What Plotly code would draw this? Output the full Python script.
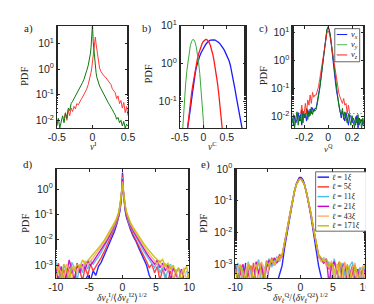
import plotly.graph_objects as go

W, H = 374, 304

# ---------------- panel a) ----------------
a_x = [-0.50, -0.48, -0.46, -0.44, -0.42, -0.40, -0.38, -0.36, -0.34, -0.32,
       -0.30, -0.28, -0.26, -0.24, -0.22, -0.20, -0.18, -0.16, -0.14, -0.12,
       -0.10, -0.08, -0.06, -0.04, -0.03, -0.02, -0.01, 0.00, 0.01, 0.02,
       0.03, 0.04, 0.05, 0.06, 0.08, 0.10,
       0.12, 0.14, 0.16, 0.18, 0.20, 0.22, 0.24, 0.26, 0.28, 0.30,
       0.32, 0.34, 0.36, 0.38, 0.40, 0.42, 0.44, 0.46, 0.48, 0.50]
a_red = [None, None, None, None, None, 0.012, 0.020, 0.010, 0.025, 0.015,
         0.030, 0.022, 0.035, 0.028, 0.045, 0.040, 0.055, 0.065, 0.080, 0.10,
         0.13, 0.17, 0.25, 0.40, 0.55, 0.75, 1.1, 1.8, 3.5, 7.0,
         13, 18, 10, 6.0, 2.0, 1.1,
         0.80, 0.65, 0.55, 0.50, 0.42, 0.38, 0.30, 0.25, 0.17, 0.14,
         0.12, 0.07, 0.09, 0.045, 0.06, 0.03, 0.05, 0.02, 0.035, 0.015]
a_green = [0.006, 0.012, 0.005, 0.010, 0.015, 0.008, 0.019, 0.012, 0.030, 0.024,
           0.045, 0.055, 0.07, 0.085, 0.10, 0.13, 0.17, 0.22, 0.30, 0.40,
           0.55, 0.9, 1.4, 2.6, 4.0, 7.0, 15, 60, 12, 5.0,
           2.2, 1.1, 0.75, 0.5, 0.3, 0.22,
           0.17, 0.13, 0.10, 0.085, 0.065, 0.05, 0.04, 0.034, 0.026, 0.020,
           0.016, 0.011, 0.013, 0.008, 0.010, 0.006, 0.009, 0.005, 0.007, 0.006]

# ---------------- panel b) ----------------
b_green_x = [-0.475, -0.45, -0.425, -0.4, -0.375, -0.35, -0.325, -0.3, -0.275, -0.25,
             -0.225, -0.2, -0.175, -0.15, -0.125, -0.1, -0.075, -0.05, -0.025, 0.0, 0.025]
b_green = [0.0034, 0.0126, 0.041, 0.117, 0.29, 0.63, 1.21, 2.03, 2.98, 3.83,
           4.32, 4.26, 3.68, 2.79, 1.85, 1.08, 0.55, 0.24, 0.095, 0.032, 0.0098]
b_red_x = [-0.35, -0.325, -0.3, -0.275, -0.25, -0.225, -0.2, -0.175, -0.15, -0.125,
           -0.1, -0.075, -0.05, -0.025, 0.0, 0.025, 0.05, 0.075, 0.1, 0.125,
           0.15, 0.175, 0.2, 0.225, 0.25, 0.275, 0.3, 0.325, 0.35, 0.375, 0.4, 0.425]
b_red = [0.013, 0.026, 0.05, 0.091, 0.16, 0.26, 0.42, 0.65, 0.96, 1.34,
         1.8, 2.33, 2.87, 3.4, 3.86, 4.17, 4.36, 4.3, 4.05, 3.6,
         3.0, 2.37, 1.77, 1.24, 0.83, 0.52, 0.31, 0.17, 0.091, 0.046, 0.021, 0.0095]
b_blue_x = [-0.375, -0.35, -0.325, -0.3, -0.275, -0.25, -0.225, -0.2, -0.175, -0.15,
            -0.125, -0.1, -0.075, -0.05, -0.025, 0.0, 0.025, 0.05, 0.075, 0.1,
            0.125, 0.15, 0.175, 0.2, 0.225, 0.25, 0.275, 0.3, 0.325, 0.35,
            0.375, 0.4, 0.425, 0.45, 0.475, 0.5, 0.525, 0.55, 0.575, 0.6,
            0.625, 0.65, 0.675, 0.7, 0.725, 0.75, 0.775, 0.8, 0.825, 0.85]
b_blue = [0.009, 0.014, 0.022, 0.035, 0.063, 0.11, 0.2, 0.33, 0.52, 0.78,
          1.05, 1.3, 1.6, 1.9, 2.2, 2.5, 2.85, 3.2, 3.5, 3.8,
          4.0, 4.15, 4.25, 4.27, 4.25, 4.18, 4.05, 3.85, 3.62, 3.37,
          3.1, 2.8, 2.5, 2.2, 1.9, 1.62, 1.38, 1.15, 0.88, 0.64,
          0.45, 0.3, 0.2, 0.13, 0.091, 0.063, 0.042, 0.03, 0.02, 0.0125]

# ---------------- panel c) ----------------
c_x = [-0.30, -0.29, -0.28, -0.27, -0.26, -0.25, -0.24, -0.23, -0.22, -0.21,
       -0.20, -0.19, -0.18, -0.17, -0.16, -0.15, -0.14, -0.13, -0.12, -0.11,
       -0.10, -0.09, -0.08, -0.07, -0.06, -0.05, -0.04, -0.03, -0.02, -0.01,
       0.00, 0.01, 0.02, 0.03, 0.04, 0.05, 0.06, 0.07, 0.08, 0.09, 0.10,
       0.11, 0.12, 0.13, 0.14, 0.15, 0.16, 0.17, 0.18, 0.19, 0.20,
       0.21, 0.22, 0.23, 0.24, 0.25, 0.26, 0.27, 0.28, 0.29, 0.30]
c_vx = [0.009, 0.005, 0.011, 0.006, 0.008, 0.014, 0.007, 0.012, 0.005, 0.016,
        0.009, 0.013, 0.007, 0.018, 0.010, 0.019, 0.013, 0.021, 0.015, 0.020,
        0.020, 0.032, 0.055, 0.11, 0.23, 0.52, 1.3, 3.3, 7.0, 12.5,
        15.5, 12.5, 7.0, 3.2, 1.25, 0.47, 0.19, 0.085, 0.042, 0.024, 0.016,
        0.009, 0.016, 0.011, 0.007, 0.014, 0.008, 0.005, 0.012, 0.010, 0.006,
        0.009, 0.007, 0.005, 0.011, 0.004, 0.009, 0.006, 0.008, 0.005, 0.007]
c_vy = [0.006, 0.012, 0.004, 0.009, 0.015, 0.005, 0.011, 0.007, 0.018, 0.006,
        0.013, 0.009, 0.020, 0.008, 0.016, 0.011, 0.022, 0.012, 0.018, 0.016,
        0.018, 0.030, 0.050, 0.10, 0.22, 0.50, 1.3, 3.4, 7.5, 13,
        16.5, 13, 7.5, 3.3, 1.2, 0.45, 0.18, 0.08, 0.04, 0.025, 0.015,
        0.012, 0.020, 0.008, 0.015, 0.010, 0.006, 0.013, 0.009, 0.005, 0.011,
        0.007, 0.004, 0.010, 0.006, 0.012, 0.005, 0.008, 0.004, 0.009, 0.006]
c_vz = [0.013, 0.013, None, 0.013, 0.013, None, 0.013, 0.013, 0.026, 0.013,
        0.013, 0.030, 0.013, 0.040, 0.026, 0.060, 0.030, 0.075, 0.050, 0.060,
        0.060, 0.085, 0.12, 0.22, 0.40, 0.80, 1.6, 3.2, 6.0, 9.5,
        12, 9.5, 6.0, 3.2, 1.6, 0.80, 0.40, 0.22, 0.12, 0.07, 0.05,
        0.040, 0.030, 0.045, 0.026, 0.030, 0.013, 0.026, 0.013, 0.013, None,
        0.013, 0.013, None, 0.013, 0.013, None, 0.013, 0.013, None, 0.013]
c_names = ["v<sub>x</sub>", "v<sub>y</sub>", "v<sub>z</sub>"]

# ---------------- panels d) and e) ----------------
de_x = [-10.0, -9.6, -9.2, -8.8, -8.4, -8.0, -7.6, -7.2, -6.8, -6.4, -6.0,
        -5.6, -5.2, -4.8, -4.4, -4.0, -3.6, -3.2, -2.8, -2.4, -2.0,
        -1.6, -1.2, -0.9, -0.6, -0.4, -0.2, -0.1, 0.0, 0.1, 0.2, 0.4, 0.6, 0.9, 1.2, 1.6,
        2.0, 2.4, 2.8, 3.2, 3.6, 4.0, 4.4, 4.8, 5.2, 5.6, 6.0,
        6.4, 6.8, 7.2, 7.6, 8.0, 8.4, 8.8, 9.2, 9.6, 10.0]
ell_labels = ["1", "5", "11", "21", "43", "171"]

d_l1 = ([6e-4, 2.5e-4, 2.5e-4, None, None, None, None, None, None, None, None,
         2.5e-4, 4e-4, 2.5e-4, 6e-4, 4e-4, 9e-4, 1.3e-3, 2.5e-3, 4e-3, 7e-3]
        + [1.2e-2, 2.2e-2, 3.8e-2, 7e-2, 0.13, 0.35, 0.9, 4.5, 0.9, 0.35, 0.14, 0.075, 0.04, 0.025, 0.014]
        + [9e-3, 5e-3, 3e-3, 1.6e-3, 1e-3, 4e-4, 2.5e-4, None, None, None, None,
           None, None, None, None, None, None, None, None, None, None])
d_l5 = ([4e-4, 1.2e-3, 2.5e-4, 7e-4, 2.5e-4, 9e-4, 5e-4, 2.5e-4, 1e-3, 6e-4, 2.5e-4,
         8e-4, 4e-4, 1.1e-3, 6e-4, 9e-4, 1.2e-3, 2e-3, 3.2e-3, 5.5e-3, 9e-3]
        + [1.5e-2, 2.6e-2, 4.3e-2, 8e-2, 0.15, 0.38, 0.95, 3.8, 0.95, 0.4, 0.16, 0.085, 0.045, 0.028, 0.016]
        + [1e-2, 6e-3, 3.5e-3, 2.2e-3, 1.4e-3, 8e-4, 1.1e-3, 5e-4, 9e-4, 2.5e-4, 7e-4,
           4e-4, 2.5e-4, 6e-4, 2.5e-4, 5e-4, None, 2.5e-4, 4e-4, None, None])
d_l11 = ([1.4e-3, 7e-4, 2.5e-4, 1e-3, 6e-4, 2.5e-4, 1.3e-3, 8e-4, 2.5e-4, 1e-3, 5e-4,
          1.2e-3, 7e-4, 1.6e-3, 1.1e-3, 1.5e-3, 2.2e-3, 3.2e-3, 5e-3, 7.5e-3, 1.2e-2]
         + [1.9e-2, 3.2e-2, 5e-2, 9e-2, 0.17, 0.42, 1.0, 3.0, 1.0, 0.43, 0.18, 0.095, 0.052, 0.032, 0.02]
         + [1.3e-2, 8e-3, 5.5e-3, 3.5e-3, 2.4e-3, 1.6e-3, 1.2e-3, 8e-4, 1.3e-3, 5e-4, 9e-4,
            2.5e-4, 7e-4, 1.1e-3, 2.5e-4, 5e-4, 8e-4, 2.5e-4, None, 6e-4, 2.5e-4])
d_l21 = ([8e-4, 2.5e-4, 9e-4, 2.5e-4, 4e-4, 1.6e-3, 7e-4, 2.5e-4, 1.2e-3, 5e-4, 1.1e-3,
          7e-4, 1.5e-3, 1e-3, 1.4e-3, 2e-3, 2.8e-3, 4e-3, 6e-3, 9e-3, 1.4e-2]
         + [2.2e-2, 3.6e-2, 5.6e-2, 0.1, 0.19, 0.45, 1.0, 2.5, 1.0, 0.46, 0.2, 0.105, 0.058, 0.037, 0.023]
         + [1.5e-2, 1e-2, 6.5e-3, 4.3e-3, 3e-3, 2.1e-3, 1.5e-3, 1.1e-3, 1.6e-3, 8e-4, 1.2e-3,
            6e-4, 1e-3, 2.5e-4, 8e-4, 4e-4, 2.5e-4, 7e-4, 2.5e-4, None, None])
d_l43 = ([2.5e-4, 9e-4, 5e-4, 2.5e-4, 1.1e-3, 7e-4, 2.5e-4, 9e-4, 5e-4, 1.1e-3, 7e-4,
          1.5e-3, 1e-3, 1.4e-3, 1.9e-3, 2.6e-3, 3.6e-3, 5.2e-3, 7.5e-3, 1.1e-2, 1.7e-2]
         + [2.6e-2, 4.2e-2, 6.3e-2, 0.11, 0.21, 0.48, 0.95, 2.0, 0.95, 0.5, 0.22, 0.115, 0.065, 0.042, 0.027]
         + [1.8e-2, 1.2e-2, 8e-3, 5.5e-3, 3.8e-3, 2.8e-3, 2e-3, 1.5e-3, 1.1e-3, 1.6e-3, 8e-4,
            1.2e-3, 6e-4, 1e-3, 2.5e-4, 7e-4, 2.5e-4, 5e-4, 8e-4, 2.5e-4, 6e-4])
d_l171 = ([9e-4, 6e-4, 2.5e-4, 1.1e-3, 7e-4, 2.5e-4, 9e-4, 6e-4, 1.1e-3, 8e-4, 1.6e-3,
           1.2e-3, 1.5e-3, 2e-3, 2.6e-3, 3.4e-3, 4.6e-3, 6.5e-3, 9e-3, 1.35e-2, 2e-2]
          + [3e-2, 4.8e-2, 7e-2, 0.12, 0.22, 0.5, 0.9, 1.5, 0.9, 0.52, 0.23, 0.125, 0.072, 0.047, 0.031]
          + [2.1e-2, 1.45e-2, 9.5e-3, 7e-3, 5e-3, 3.6e-3, 2.8e-3, 2.1e-3, 1.6e-3, 1.3e-3, 1.7e-3,
             9e-4, 1.2e-3, 7e-4, 1e-3, 5e-4, 8e-4, 2.5e-4, 6e-4, 9e-4, 2.5e-4])

e_l1 = ([1e-3, 2.5e-4, 9e-4, 2.5e-4, 1.1e-3, None, None, None, None, None, None,
         6e-4, 2.5e-4, 8e-4, None, None, 2.5e-4, 5e-4, 9e-4, 3.5e-3, 1.1e-2]
        + [0.035, 0.1, 0.2, 0.35, 0.45, 0.52, 0.54, 0.55, 0.54, 0.52, 0.45, 0.35, 0.2, 0.1, 0.035]
        + [1.1e-2, 3.5e-3, 9e-4, 4e-4, 2.5e-4, None, None, None, None, None, None,
           None, None, None, None, None, None, None, None, None, None])
e_l5 = ([1e-3, 2.5e-4, 6e-4, 2.5e-4, 8e-4, 5e-4, 2.5e-4, 1.1e-3, 2.5e-4, 6e-4, 9e-4,
         2.5e-4, 1.3e-3, 7e-4, 1.6e-3, 9e-4, 1.2e-3, 2e-3, 1.8e-3, 4.5e-3, 1.3e-2]
        + [0.04, 0.105, 0.2, 0.33, 0.41, 0.47, 0.49, 0.5, 0.49, 0.47, 0.41, 0.33, 0.2, 0.105, 0.04]
        + [1.3e-2, 4.5e-3, 2e-3, 1.5e-3, 1.1e-3, 1.4e-3, 7e-4, 1e-3, 2.5e-4, 8e-4, 1.2e-3,
           2.5e-4, 6e-4, 9e-4, 2.5e-4, 5e-4, 1e-3, 2.5e-4, 7e-4, 2.5e-4, 6e-4])
e_l11 = ([6e-4, 1.1e-3, 2.5e-4, 8e-4, 2.5e-4, 1.2e-3, 5e-4, 2.5e-4, 9e-4, 1.4e-3, 2.5e-4,
          7e-4, 1e-3, 1.5e-3, 8e-4, 1.3e-3, 1.7e-3, 1.2e-3, 1.9e-3, 5e-3, 1.4e-2]
         + [0.042, 0.11, 0.205, 0.33, 0.405, 0.46, 0.48, 0.49, 0.48, 0.46, 0.405, 0.33, 0.205, 0.11, 0.042]
         + [1.4e-2, 5e-3, 1.9e-3, 1.3e-3, 1.6e-3, 9e-4, 1.2e-3, 2.5e-4, 1.5e-3, 7e-4, 2.5e-4,
            1.1e-3, 6e-4, 2.5e-4, 9e-4, 1.2e-3, 2.5e-4, 6e-4, 8e-4, 2.5e-4, 1e-3])
e_l21 = ([9e-4, 2.5e-4, 7e-4, 1e-3, 2.5e-4, 6e-4, 9e-4, 2.5e-4, 1.2e-3, 5e-4, 1.1e-3,
          2.5e-4, 8e-4, 1.3e-3, 1e-3, 1.6e-3, 1.1e-3, 1.5e-3, 1.8e-3, 4.8e-3, 1.35e-2]
         + [0.04, 0.105, 0.2, 0.33, 0.41, 0.47, 0.49, 0.5, 0.49, 0.47, 0.41, 0.33, 0.2, 0.105, 0.04]
         + [1.35e-2, 4.8e-3, 1.7e-3, 1.4e-3, 1.1e-3, 1.5e-3, 2.5e-4, 9e-4, 1.2e-3, 6e-4, 2.5e-4,
            8e-4, 1.1e-3, 2.5e-4, 5e-4, 9e-4, 2.5e-4, 7e-4, 2.5e-4, 8e-4, 5e-4])
e_l43 = ([2.5e-4, 8e-4, 1e-3, 2.5e-4, 6e-4, 1.1e-3, 2.5e-4, 7e-4, 1e-3, 2.5e-4, 1.2e-3,
          8e-4, 2.5e-4, 1e-3, 1.4e-3, 9e-4, 1.5e-3, 1.3e-3, 1.9e-3, 5e-3, 1.4e-2]
         + [0.043, 0.11, 0.2, 0.325, 0.4, 0.455, 0.475, 0.485, 0.475, 0.455, 0.4, 0.325, 0.2, 0.11, 0.043]
         + [1.4e-2, 5e-3, 1.8e-3, 1.2e-3, 1.5e-3, 1e-3, 8e-4, 1.3e-3, 2.5e-4, 1e-3, 7e-4,
            2.5e-4, 1.2e-3, 6e-4, 2.5e-4, 8e-4, 1.1e-3, 2.5e-4, 6e-4, 9e-4, 2.5e-4])
e_l171 = ([7e-4, 2.5e-4, 9e-4, 6e-4, 2.5e-4, 1e-3, 8e-4, 2.5e-4, 7e-4, 1.1e-3, 6e-4,
           2.5e-4, 1.2e-3, 9e-4, 1.4e-3, 1.1e-3, 1.3e-3, 1.6e-3, 2e-3, 5.2e-3, 1.45e-2]
          + [0.044, 0.112, 0.2, 0.32, 0.395, 0.45, 0.47, 0.48, 0.47, 0.45, 0.395, 0.32, 0.2, 0.112, 0.044]
          + [1.45e-2, 5.2e-3, 2e-3, 1.6e-3, 1.2e-3, 1.4e-3, 9e-4, 1.1e-3, 7e-4, 2.5e-4, 1.2e-3,
             8e-4, 2.5e-4, 1e-3, 6e-4, 2.5e-4, 9e-4, 5e-4, 2.5e-4, 7e-4, 1e-3])

d_series = [d_l1, d_l5, d_l11, d_l21, d_l43, d_l171]
e_series = [e_l1, e_l5, e_l11, e_l21, e_l43, e_l171]

# ---------------- styling ----------------
RED, GREEN_A, BLUE = "#ff1a1a", "#0a7a0a", "#1a1aff"
GREEN_B = "#3aa83a"
ELL_COLORS = ["#1414ff", "#ff3030", "#4dbbe8", "#c800c8", "#ffab6b", "#c2bc00"]
AX = "#262626"
SANS = "Liberation Sans, Arial, sans-serif"
SERIF = "Liberation Serif, Times New Roman, serif"


def px(x):
    return x / W


def py(y):
    return 1 - y / H


fig = go.Figure()


def add(x, y, color, xa, ya, width=1.0, opacity=1.0):
    fig.add_trace(go.Scatter(x=x, y=y, mode="lines", xaxis=xa, yaxis=ya,
                             line=dict(color=color, width=width), opacity=opacity,
                             connectgaps=False, showlegend=False, hoverinfo="skip"))


add(a_x, a_red, RED, "x", "y", 1.0, 0.85)
add(a_x, a_green, GREEN_A, "x", "y", 1.0)
add(b_blue_x, b_blue, BLUE, "x2", "y2", 1.3)
add(b_red_x, b_red, RED, "x2", "y2", 1.3)
add(b_green_x, b_green, GREEN_B, "x2", "y2", 1.0)
add(c_x, c_vx, BLUE, "x3", "y3", 1.0)
add(c_x, c_vy, GREEN_A, "x3", "y3", 1.0)
add(c_x, c_vz, RED, "x3", "y3", 1.0, 0.85)
for ser, col in zip(d_series, ELL_COLORS):
    add(de_x, ser, col, "x4", "y4", 1.4, 0.9)
for ser, col in zip(e_series, ELL_COLORS):
    add(de_x, ser, col, "x5", "y5", 1.4, 0.9)


def sup(p):
    return "10<sup>%d</sup>" % p


base = dict(showline=True, linecolor=AX, linewidth=0.7, mirror="ticks", ticks="inside",
            ticklen=3, tickwidth=0.7, tickcolor=AX, showgrid=False, zeroline=False,
            tickfont=dict(family=SANS, size=10.5, color=AX))
minor_log = dict(ticks="inside", ticklen=1.5, tickwidth=0.5, tickcolor=AX, showgrid=False)

top_dom = [py(115), py(10)]
bot_dom = [py(269), py(157)]


def xax(dom, rng, vals, anchor):
    d = dict(base)
    d.update(domain=[px(dom[0]), px(dom[1])], range=rng, tickmode="array",
             tickvals=vals, ticktext=[("%g" % v) for v in vals], anchor=anchor)
    return d


def yax(dom, rng, pows, anchor):
    d = dict(base)
    d.update(domain=dom, type="log", range=rng, tickmode="array",
             tickvals=[10.0 ** p for p in pows], ticktext=[sup(p) for p in pows],
             anchor=anchor, minor=minor_log)
    return d


fig.update_layout(
    width=W, height=H, margin=dict(l=0, r=0, t=0, b=0),
    paper_bgcolor="white", plot_bgcolor="white",
    xaxis=xax((41.7, 116), [-0.5, 0.5], [-0.5, 0, 0.5], "y"),
    yaxis=yax(top_dom, [-2.3, 1.7], [-2, -1, 0, 1], "x"),
    xaxis2=xax((170, 239), [-0.5, 0.9], [-0.5, 0, 0.5], "y2"),
    yaxis2=yax(top_dom, [-1.7, 1.0], [-1, 0, 1], "x2"),
    xaxis3=xax((287.5, 362.5), [-0.3, 0.3], [-0.2, 0, 0.2], "y3"),
    yaxis3=yax(top_dom, [-2.4, 1.25], [-2, -1, 0, 1], "x3"),
    xaxis4=xax((40.5, 180), [-10, 10], [-10, -5, 0, 5, 10], "y4"),
    yaxis4=yax(bot_dom, [-3.5, 0.8], [-3, -2, -1, 0], "x4"),
    xaxis5=xax((228, 364), [-10, 10], [-10, -5, 0, 5, 10], "y5"),
    yaxis5=yax(bot_dom, [-3.43, 0.0], [-3, -2, -1, 0], "x5"),
)

ann = []


def text(x, y, s, size=10, family=SERIF, angle=0, xanchor="center"):
    ann.append(dict(x=px(x), y=py(y), xref="paper", yref="paper", text=s, showarrow=False,
                    font=dict(family=family, size=size, color=AX), textangle=angle,
                    xanchor=xanchor, yanchor="middle"))


# panel letters
text(12, 13, "a)", 11)
text(136, 13, "b)", 11)
text(257, 13, "c)", 11)
text(12, 152, "d)", 11)
text(197, 152, "e)", 11)
# PDF labels
for xx, yy in [(8, 62), (137, 60), (257, 62), (9, 213), (195, 213)]:
    text(xx, yy, "PDF", 10.5, angle=-90)
# x titles
text(79, 134, "<i>v</i><sup>I</sup>", 9.5)
text(204, 134, "<i>v</i><sup>C</sup>", 9.5)
text(325, 136, "<i>v</i><sup>Q</sup>", 9)
text(110, 289, "<i>δv</i><sub><i>ℓ</i></sub><sup>I</sup>/⟨<i>δv</i><sub><i>ℓ</i></sub><sup>I2</sup>⟩<sup>1/2</sup>", 9.5)
text(296, 289, "<i>δv</i><sub><i>ℓ</i></sub><sup>Q</sup>/⟨<i>δv</i><sub><i>ℓ</i></sub><sup>Q2</sup>⟩<sup>1/2</sup>", 9.5)

shapes = []
# legend for c)
shapes.append(dict(type="rect", xref="paper", yref="paper", x0=px(332), x1=px(358),
                   y0=py(47), y1=py(13), line=dict(color=AX, width=0.7), fillcolor="white"))
c_cols = [BLUE, "#4cb84c", RED]
for i, (nm, col) in enumerate(zip(c_names, c_cols)):
    yy = 19 + i * 10.5
    shapes.append(dict(type="line", xref="paper", yref="paper", x0=px(334), x1=px(345),
                       y0=py(yy), y1=py(yy), line=dict(color=col, width=1)))
    text(346.5, yy, "<i>" + nm + "</i>", 8.5, xanchor="left")
# legend for e)
shapes.append(dict(type="rect", xref="paper", yref="paper", x0=px(312), x1=px(365),
                   y0=py(221), y1=py(160), line=dict(color=AX, width=0.7), fillcolor="white"))
for i, (lb, col) in enumerate(zip(ell_labels, ELL_COLORS)):
    yy = 165.5 + i * 10
    shapes.append(dict(type="line", xref="paper", yref="paper", x0=px(314), x1=px(326),
                       y0=py(yy), y1=py(yy), line=dict(color=col, width=1.4)))
    text(327.5, yy, "<i>ℓ</i> = " + lb + "<i>ξ</i>", 8, xanchor="left")

fig.update_layout(annotations=ann, shapes=shapes)
fig.write_html("out.html")
